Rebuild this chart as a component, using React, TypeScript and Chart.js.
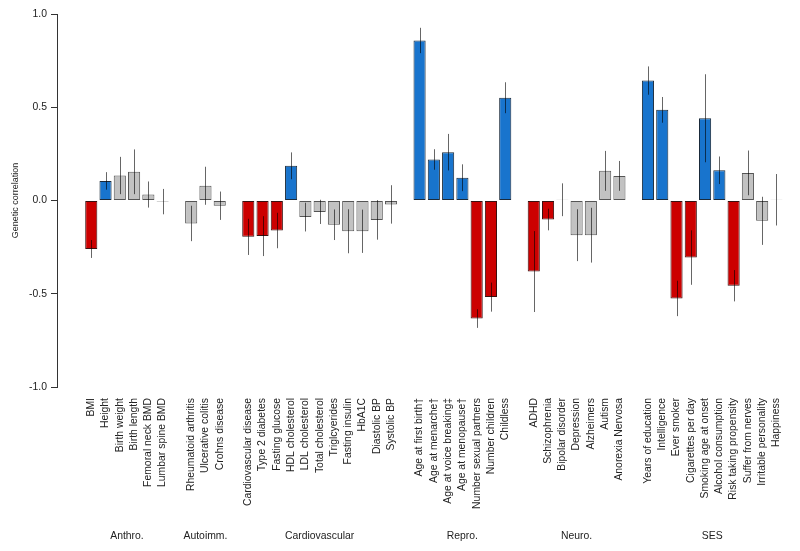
import React, { useEffect, useRef } from "react";
import { Chart, registerables } from "chart.js";

Chart.register(...registerables);

const groupNames = ["Anthro.", "Autoimm.", "Cardiovascular", "Repro.", "Neuro.", "SES"];

const traits = [
  "BMI", "Height", "Birth weight", "Birth length", "Femoral neck BMD", "Lumbar spine BMD",
  "Rheumatoid arthritis", "Ulcerative colitis", "Crohns disease",
  "Cardiovascular disease", "Type 2 diabetes", "Fasting glucose", "HDL cholesterol", "LDL cholesterol",
  "Total cholesterol", "Triglcyerides", "Fasting insulin", "HbA1C", "Diastolic BP", "Systolic BP",
  "Age at first birth†", "Age at menarche†", "Age at voice breaking‡", "Age at menopause†",
  "Number sexual partners", "Number children", "Childless",
  "ADHD", "Schizophrenia", "Bipolar disorder", "Depression", "Alzheimers", "Autism", "Anorexia Nervosa",
  "Years of education", "Intelligence", "Ever smoker", "Cigarettes per day", "Smoking age at onset",
  "Alcohol consumption", "Risk taking propensity", "Suffer from nerves", "Irritable personality", "Happiness",
];

const traitGroups = [
  0, 0, 0, 0, 0, 0,
  1, 1, 1,
  2, 2, 2, 2, 2, 2, 2, 2, 2, 2, 2,
  3, 3, 3, 3, 3, 3, 3,
  4, 4, 4, 4, 4, 4, 4,
  5, 5, 5, 5, 5, 5, 5, 5, 5, 5,
];

const correlations = [
  -0.26, 0.105, 0.134, 0.154, 0.032, -0.006,
  -0.123, 0.079, -0.028,
  -0.195, -0.191, -0.161, 0.186, -0.089, -0.061, -0.13, -0.165, -0.165, -0.104, -0.021,
  0.858, 0.22, 0.259, 0.122, -0.633, -0.518, 0.551,
  -0.381, -0.102, 0.004, -0.186, -0.186, 0.159, 0.132,
  0.643, 0.486, -0.525, -0.306, 0.441, 0.162, -0.457, 0.148, -0.109, 0.004,
];

const errors = [
  0.048, 0.047, 0.1, 0.12, 0.07, 0.068,
  0.095, 0.102, 0.076,
  0.097, 0.107, 0.095, 0.072, 0.077, 0.065, 0.082, 0.118, 0.116, 0.106, 0.103,
  0.068, 0.055, 0.098, 0.072, 0.05, 0.078, 0.083,
  0.217, 0.058, 0.088, 0.139, 0.147, 0.107, 0.08,
  0.076, 0.069, 0.095, 0.146, 0.236, 0.074, 0.084, 0.12, 0.129, 0.138,
];

const significance = [
  "neg", "pos", "ns", "ns", "ns", "ns",
  "ns", "ns", "ns",
  "neg", "neg", "neg", "pos", "ns", "ns", "ns", "ns", "ns", "ns", "ns",
  "pos", "pos", "pos", "pos", "neg", "neg", "pos",
  "neg", "neg", "ns", "ns", "ns", "ns", "ns",
  "pos", "pos", "neg", "neg", "pos", "pos", "neg", "ns", "ns", "ns",
];

const yTicks = [-1, -0.5, 0, 0.5, 1];

const FONT = "'Liberation Sans', Arial, Helvetica, sans-serif";
const TEXT = "#222222";
const fillColors: Record<string, string> = { pos: "#1874CD", neg: "#CC0000", ns: "#C2C2C2" };
const edgeColors: Record<string, string> = { pos: "#1a2a3a", neg: "#3a1010", ns: "#555555" };

// slot position of each trait: one empty slot between groups
const slots = traits.map((_, i) => i + traitGroups[i]);
const labelBySlot: Record<number, string> = {};
slots.forEach((s, i) => (labelBySlot[s] = traits[i]));

export default function App() {
  const ref = useRef<HTMLCanvasElement | null>(null);

  useEffect(() => {
    if (!ref.current) return;
    const errorBars = {
      id: "errorBars",
      afterDatasetsDraw(chart: any) {
        const { ctx, scales } = chart;
        const xs = scales.x, ys = scales.y;
        ctx.save();
        ctx.strokeStyle = "rgba(0,0,0,0.6)";
        ctx.lineWidth = 1;
        correlations.forEach((v, i) => {
          const x = Math.round(xs.getPixelForValue(slots[i])) + 0.5;
          const y1 = ys.getPixelForValue(v + errors[i]);
          const y2 = ys.getPixelForValue(v - errors[i]);
          ctx.beginPath();
          ctx.moveTo(x, y1);
          ctx.lineTo(x, y2);
          ctx.stroke();
        });
        ctx.restore();
      },
    };
    const groupLabels = {
      id: "groupLabels",
      afterDraw(chart: any) {
        const { ctx, scales } = chart;
        const xs = scales.x;
        ctx.save();
        ctx.fillStyle = TEXT;
        ctx.font = `10.4px ${FONT}`;
        ctx.textAlign = "center";
        ctx.textBaseline = "middle";
        groupNames.forEach((g, gi) => {
          const s = slots.filter((_, i) => traitGroups[i] === gi);
          const a = xs.getPixelForValue(s[0]);
          const b = xs.getPixelForValue(s[s.length - 1]);
          ctx.fillText(g, (a + b) / 2, 536);
        });
        ctx.restore();
      },
    };

    const lastSlot = slots[slots.length - 1];
    const chart = new Chart(ref.current, {
      type: "bar",
      data: {
        datasets: [
          {
            data: correlations.map((v, i) => ({ x: slots[i], y: v })),
            backgroundColor: significance.map((s) => fillColors[s]),
            borderColor: significance.map((s) => edgeColors[s]),
            borderWidth: 1,
            borderSkipped: false,
            barPercentage: 0.85,
            categoryPercentage: 1,
          },
        ],
      },
      options: {
        animation: false,
        responsive: false,
        maintainAspectRatio: false,
        layout: { padding: { top: 14, right: 5, bottom: 0, left: 0 } },
        plugins: { legend: { display: false }, tooltip: { enabled: false } },
        scales: {
          x: {
            type: "linear",
            min: -2.4,
            max: lastSlot + 0.76,
            offset: false,
            grid: { display: false, drawTicks: false },
            border: { display: false },
            afterBuildTicks: (axis: any) => {
              axis.ticks = slots.map((s) => ({ value: s }));
            },
            afterFit: (axis: any) => {
              axis.height = 551 - 387;
            },
            ticks: {
              autoSkip: false,
              maxRotation: 90,
              minRotation: 90,
              padding: 11,
              color: TEXT,
              font: { family: FONT, size: 10.4 },
              callback: (value: any) => labelBySlot[value] ?? "",
            },
          },
          y: {
            min: -1,
            max: 1,
            afterFit: (axis: any) => {
              axis.width = 57;
            },
            afterBuildTicks: (axis: any) => {
              axis.ticks = yTicks.map((v) => ({ value: v }));
            },
            grid: { drawOnChartArea: false, tickLength: 6, color: "#333" },
            border: { color: "#333" },
            ticks: {
              padding: 4,
              color: TEXT,
              font: { family: FONT, size: 10.4 },
              callback: (value: any) => Number(value).toFixed(1),
            },
            title: {
              display: true,
              text: "Genetic correlation",
              color: TEXT,
              font: { family: FONT, size: 9 },
              padding: { top: 10, bottom: 0 },
            },
          },
        },
      } as any,
      plugins: [errorBars, groupLabels],
    });
    return () => chart.destroy();
  }, []);

  return (
    <div style={{ position: "absolute", left: 0, top: 0, width: 800, height: 551, background: "#fff" }}>
      <canvas ref={ref} width={800} height={551} />
    </div>
  );
}
